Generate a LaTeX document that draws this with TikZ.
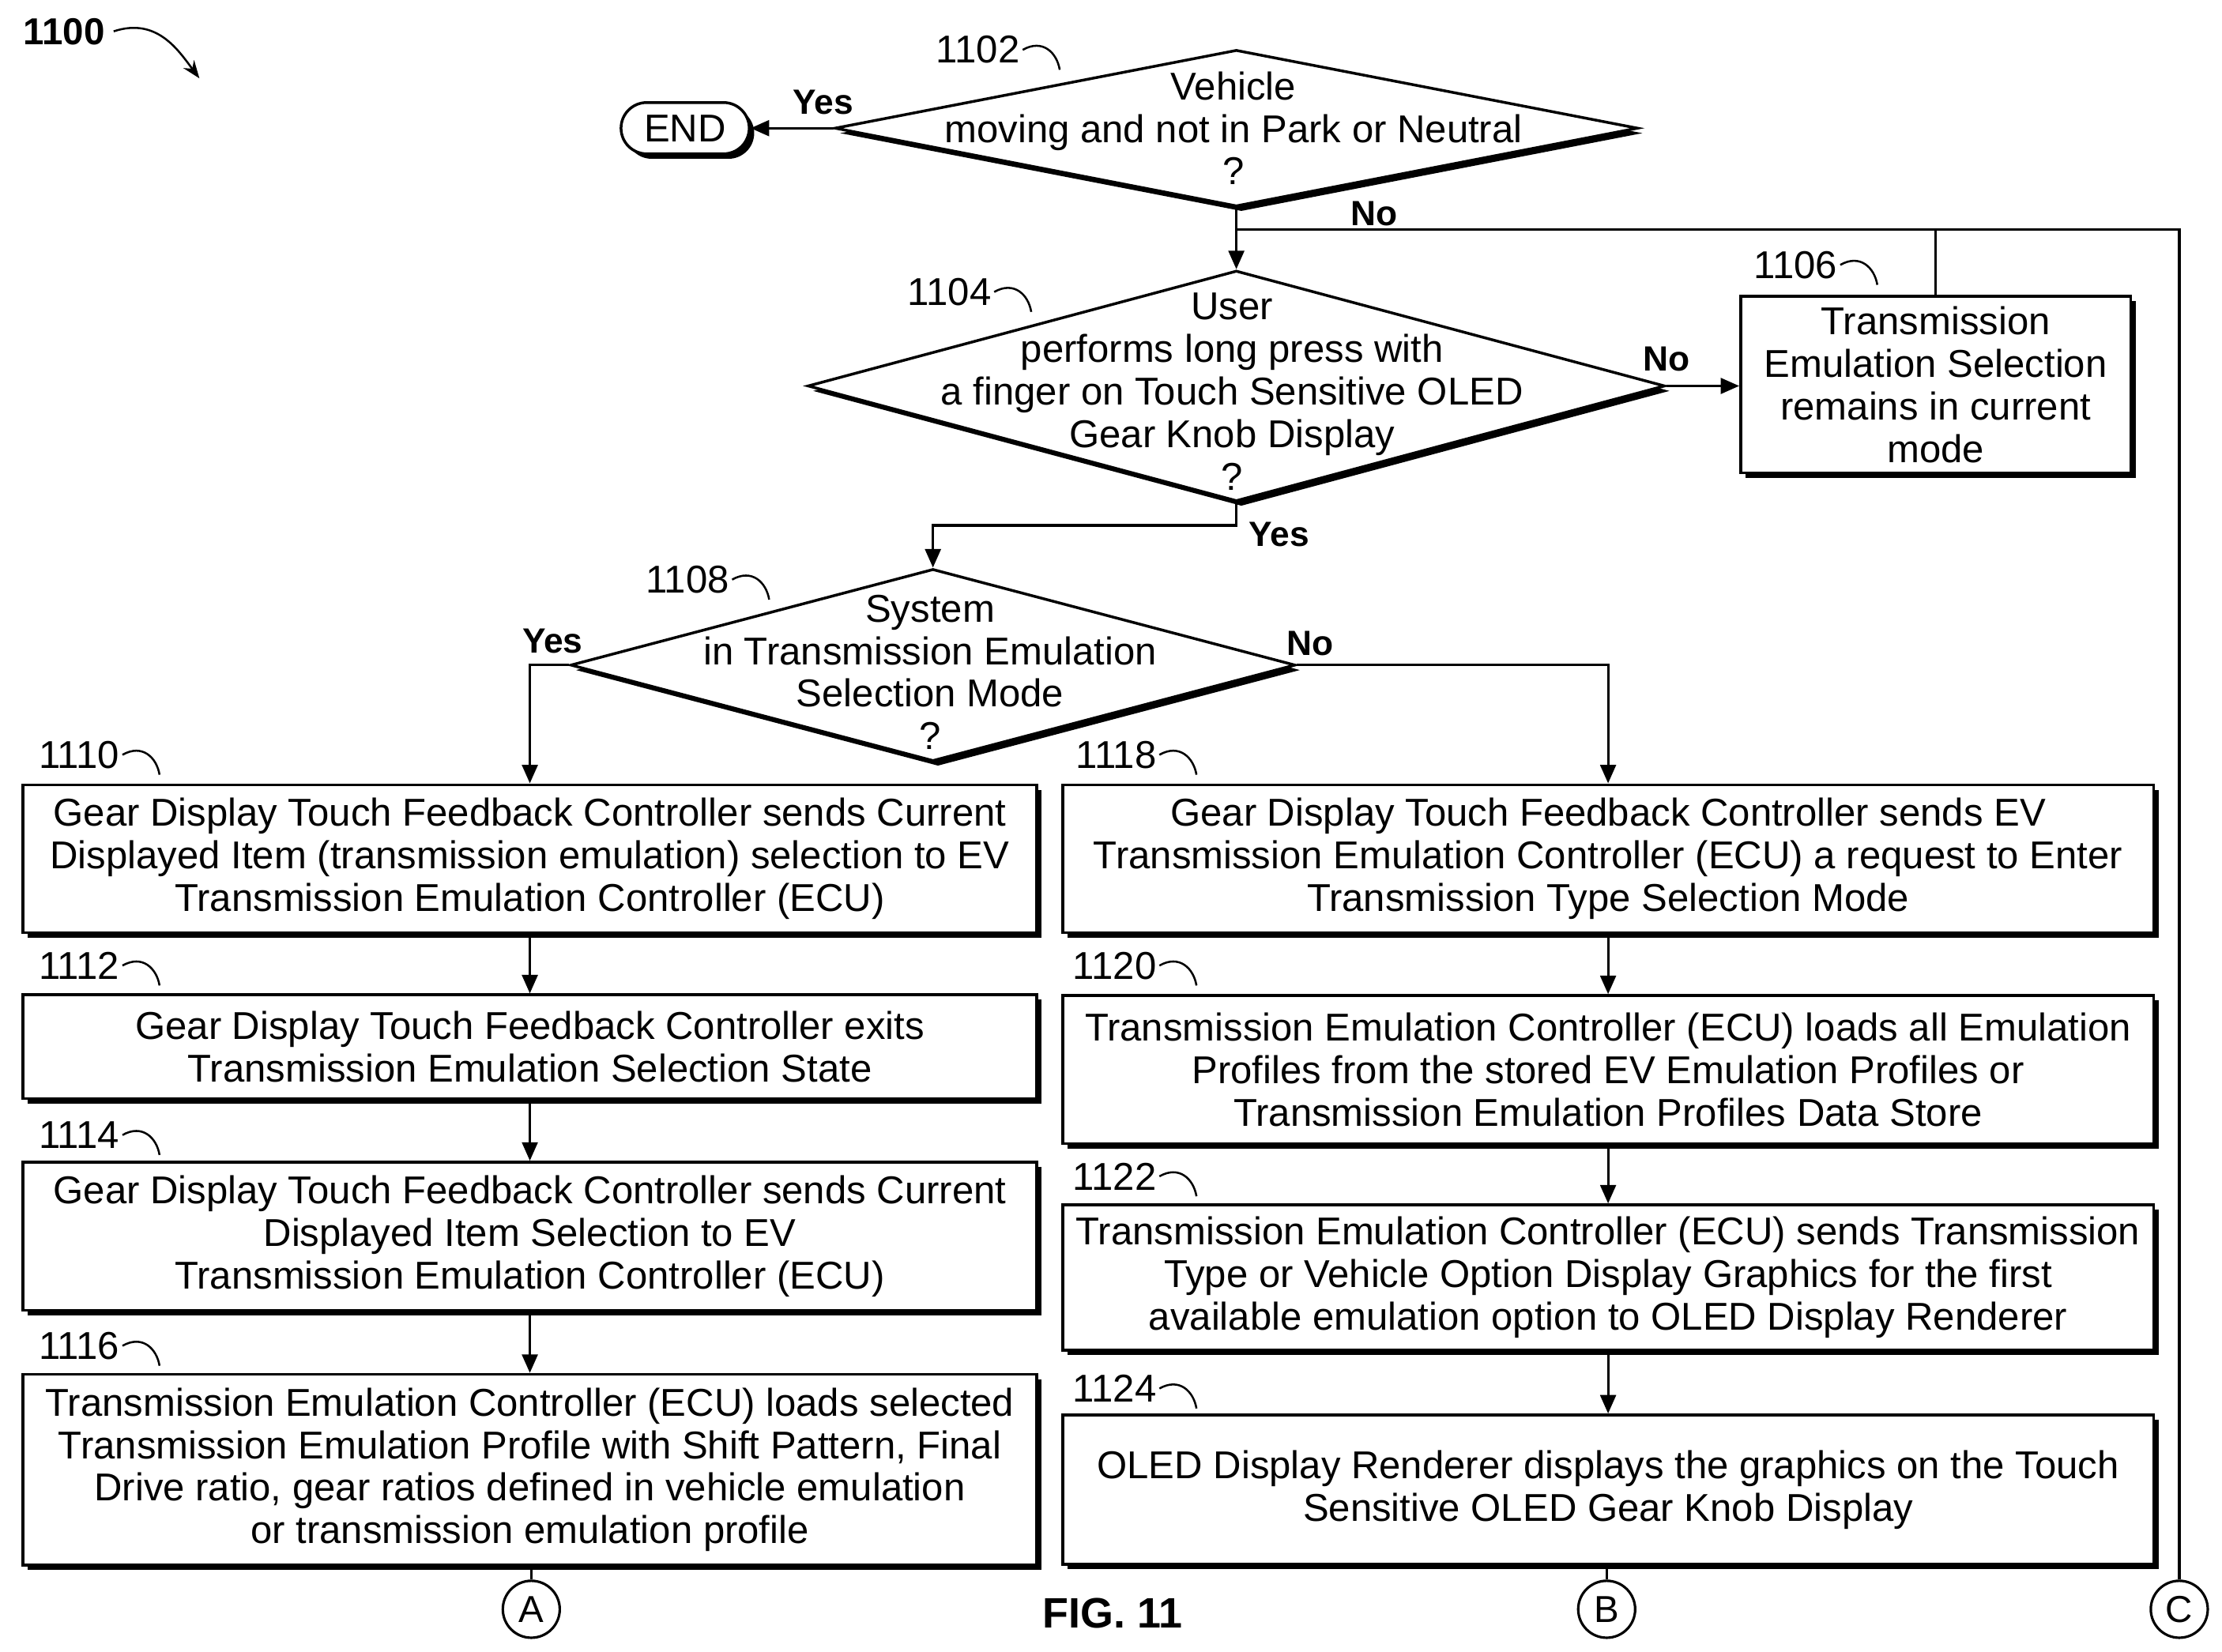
\documentclass[tikz,border=0pt]{standalone}
\usepackage{fontspec}
\setmainfont{Liberation Sans}
\usetikzlibrary{shapes.geometric,arrows.meta,shadows}
\tikzset{
  shd/.style={drop shadow={shadow xshift=0.07cm,shadow yshift=-0.07cm,fill=black,opacity=1}},
  box/.style={draw,line width=1.1pt,fill=white,shd,minimum width=#1,inner sep=0pt,align=center,
    font=\fontsize{15.5}{17}\selectfont},
  dia/.style={diamond,draw,line width=1.1pt,fill=white,shd,inner sep=0pt},
  dtxt/.style={align=center,font=\fontsize{15.5}{17}\selectfont},
  num/.style={font=\fontsize{15.5}{17}\selectfont,inner sep=1pt},
  yn/.style={font=\bfseries\fontsize{14}{16}\selectfont,inner sep=1pt},
  arr/.style={line width=1pt,-{Triangle[length=2.6mm,width=2.2mm]}},
  ln/.style={line width=1pt},
  lead/.style={line width=0.8pt},
  conn/.style={circle,draw,line width=1pt,minimum size=0.8cm,inner sep=0pt,font=\fontsize{15}{17}\selectfont}
}
\begin{document}
\begin{tikzpicture}[x=0.02cm,y=-0.02cm]
\useasboundingbox (0,0) rectangle (1560,1160);

\node[font=\bfseries\fontsize{15}{17}\selectfont] (fig) at (45,22) {1100};
\draw[lead,-{Stealth[length=2.5mm]}] (fig.east) .. controls (110,12) and (125,35) .. (140,55);

% decisions
\node[dia,minimum width=11.28cm,minimum height=2.2cm] (q1102) at (868,90) {};
\node[dtxt] (t1102) at (866,90) {Vehicle\\moving and not in Park or Neutral\\?};
\node[dia,minimum width=12.04cm,minimum height=3.24cm] (q1104) at (868,271) {};
\node[dtxt] (t1104) at (865,275) {User\\performs long press with\\a finger on Touch Sensitive OLED\\Gear Knob Display\\?};
\node[dia,minimum width=10.18cm,minimum height=2.7cm] (q1108) at (655,467) {};
\node[dtxt] (t1108) at (653,472) {System\\in Transmission Emulation\\Selection Mode\\?};

\node[draw,line width=1.1pt,fill=white,shd,rounded corners=0.36cm,minimum width=1.8cm,minimum height=0.72cm,
  font=\fontsize{15.5}{17}\selectfont] (end) at (481,90) {END};

% boxes
\node[box=5.48cm,minimum height=2.48cm] (b1106) at (1359,270) {Transmission\\Emulation Selection\\remains in current\\mode};
\node[box=14.24cm,minimum height=2.08cm] (b1110) at (372,603) {Gear Display Touch Feedback Controller sends Current\\Displayed Item (transmission emulation) selection to EV\\Transmission Emulation Controller (ECU)};
\node[box=14.24cm,minimum height=1.46cm] (b1112) at (372,735) {Gear Display Touch Feedback Controller exits\\Transmission Emulation Selection State};
\node[box=14.24cm,minimum height=2.08cm] (b1114) at (372,868) {Gear Display Touch Feedback Controller sends Current\\Displayed Item Selection to EV\\Transmission Emulation Controller (ECU)};
\node[box=14.24cm,minimum height=2.68cm] (b1116) at (372,1032) {Transmission Emulation Controller (ECU) loads selected\\Transmission Emulation Profile with Shift Pattern, Final\\Drive ratio, gear ratios defined in vehicle emulation\\or transmission emulation profile};
\node[box=15.32cm,minimum height=2.08cm] (b1118) at (1129,603) {Gear Display Touch Feedback Controller sends EV\\Transmission Emulation Controller (ECU) a request to Enter\\Transmission Type Selection Mode};
\node[box=15.32cm,minimum height=2.08cm] (b1120) at (1129,751) {Transmission Emulation Controller (ECU) loads all Emulation\\Profiles from the stored EV Emulation Profiles or\\Transmission Emulation Profiles Data Store};
\node[box=15.32cm,minimum height=2.04cm] (b1122) at (1129,897) {Transmission Emulation Controller (ECU) sends Transmission\\Type or Vehicle Option Display Graphics for the first\\available emulation option to OLED Display Renderer};
\node[box=15.32cm,minimum height=2.1cm] (b1124) at (1129,1046) {OLED Display Renderer displays the graphics on the Touch\\Sensitive OLED Gear Knob Display};

% off-page connectors
\node[conn] (cA) at (373,1130) {A};
\node[conn] (cB) at (1128,1130) {B};
\node[conn] (cC) at (1530,1130) {C};
\node[font=\bfseries\fontsize{17}{19}\selectfont] (title) at (781,1133) {FIG. 11};

% reference numbers
\node[num,anchor=east] (n1102) at (718,35) {1102};
\node[num,anchor=east] (n1104) at (698,205) {1104};
\node[num,anchor=east] (n1106) at (1292,186) {1106};
\node[num,anchor=east] (n1108) at (514,407) {1108};
\node[num,anchor=east] (n1110) at (86,530) {1110};
\node[num,anchor=east] (n1112) at (86,678) {1112};
\node[num,anchor=east] (n1114) at (86,797) {1114};
\node[num,anchor=east] (n1116) at (86,945) {1116};
\node[num,anchor=east] (n1118) at (814,530) {1118};
\node[num,anchor=east] (n1120) at (814,678) {1120};
\node[num,anchor=east] (n1122) at (814,826) {1122};
\node[num,anchor=east] (n1124) at (814,975) {1124};
\foreach \n in {1102,1104,1106,1108,1110,1112,1114,1116,1118,1120,1122,1124}
  \draw[lead] (n\n.east) .. controls +(14,-8) and +(-2,-12) .. +(26,14);

% yes / no
\node[yn] (y1102) at (578,72) {Yes};
\node[yn] (o1102) at (965,150) {No};
\node[yn] (o1104) at (1170,252) {No};
\node[yn] (y1104) at (898,375) {Yes};
\node[yn] (y1108) at (388,450) {Yes};
\node[yn] (o1108) at (920,452) {No};

% connectors
\coordinate (jn) at (868,161);
\draw[arr] (q1102.west) -- (end.east);
\draw[arr] (q1102.south) -- (q1104.north);
\draw[ln] (cC.north) |- (jn);
\draw[ln] (b1106.north) -- (b1106.north |- jn);
\draw[arr] (q1104.east) -- (b1106.west |- q1104.east);
\draw[arr] (q1104.south) -- ++(0,16) -| (q1108.north);
\draw[arr] (q1108.west) -| (b1110.north);
\draw[arr] (q1108.east) -| (b1118.north);
\draw[arr] (b1110) -- (b1112);
\draw[arr] (b1112) -- (b1114);
\draw[arr] (b1114) -- (b1116);
\draw[arr] (b1118) -- (b1120);
\draw[arr] (b1120) -- (b1122);
\draw[arr] (b1122) -- (b1124);
\draw[ln] (b1116.south -| cA) -- (cA.north);
\draw[ln] (b1124.south -| cB) -- (cB.north);
\end{tikzpicture}
\end{document}
